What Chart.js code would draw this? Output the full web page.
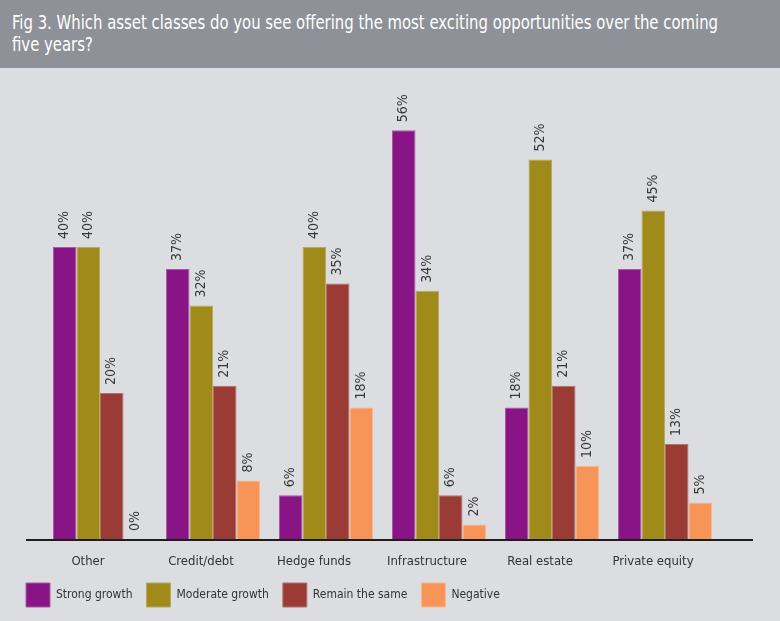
<!DOCTYPE html>
<html>
<head>
<meta charset="utf-8">
<script src="https://cdn.jsdelivr.net/npm/chart.js@4"></script>
<style>
  html, body { margin: 0; padding: 0; background: #dcdde1; }
  #wrap { width: 780px; height: 621px; position: relative; overflow: hidden; }
  #header {
    height: 68px; box-sizing: border-box; background: #8e9198; color: #ffffff;
    font-family: "DejaVu Sans Condensed", sans-serif;
    font-size: 19px; line-height: 22px; padding: 11px 0 0 12px; white-space: nowrap;
  }
  #header span { display: inline-block; transform: scaleX(0.87); transform-origin: left top; }
  #chartBox { width: 780px; height: 553px; position: relative; }
</style>
</head>
<body>
<div id="wrap">
  <div id="header"><span>Fig 3. Which asset classes do you see offering the most exciting opportunities over the coming<br>five years?</span></div>
  <div id="chartBox"><canvas id="chart"></canvas></div>
</div>
<script>
const categories = ["Other", "Credit/debt", "Hedge funds", "Infrastructure", "Real estate", "Private equity"];
const seriesNames = ["Strong growth", "Moderate growth", "Remain the same", "Negative"];
const strongGrowth = [40, 37, 6, 56, 18, 37];
const moderateGrowth = [40, 32, 40, 34, 52, 45];
const remainSame = [20, 21, 35, 6, 21, 13];
const negative = [0, 8, 18, 2, 10, 5];

const seriesColors = ["#881485", "#a08a1a", "#9b3b36", "#f69557"];
const edgeColors = ["#a55ba3", "#b8a860", "#b5706c", "#f9b88e"];

const fontFamily = '"DejaVu Sans Condensed", sans-serif';

// rotated % labels above each bar
const valueLabels = {
  id: "valueLabels",
  afterDatasetsDraw(chart) {
    const ctx = chart.ctx;
    ctx.save();
    ctx.font = "14px " + fontFamily;
    ctx.fillStyle = "#383838";
    ctx.textAlign = "left";
    ctx.textBaseline = "middle";
    chart.data.datasets.forEach((ds, i) => {
      chart.getDatasetMeta(i).data.forEach((bar, j) => {
        ctx.save();
        ctx.translate(bar.x, bar.y - 8);
        ctx.rotate(-Math.PI / 2);
        ctx.fillText(ds.data[j] + "%", 0, 0);
        ctx.restore();
      });
    });
    ctx.restore();
  }
};

// baseline runs wider than the category area
const baseLine = {
  id: "baseLine",
  afterDatasetsDraw(chart) {
    const ctx = chart.ctx;
    const y = chart.scales.y.getPixelForValue(0);
    ctx.save();
    ctx.strokeStyle = "#1e1e1e";
    ctx.lineWidth = 2;
    ctx.beginPath();
    ctx.moveTo(26, y + 1);
    ctx.lineTo(753, y + 1);
    ctx.stroke();
    ctx.restore();
  }
};

const allSeries = [strongGrowth, moderateGrowth, remainSame, negative];

new Chart(document.getElementById("chart"), {
  type: "bar",
  data: {
    labels: categories,
    datasets: allSeries.map((values, i) => ({
      label: seriesNames[i],
      data: values,
      backgroundColor: seriesColors[i],
      borderColor: edgeColors[i],
      borderWidth: 1,
      categoryPercentage: 0.832,
      barPercentage: 1
    }))
  },
  options: {
    responsive: true,
    maintainAspectRatio: false,
    animation: false,
    layout: { padding: { top: 33, left: 12, right: 58.5, bottom: 4 } },
    plugins: {
      title: { display: false },
      tooltip: { enabled: false },
      legend: {
        position: "bottom",
        align: "start",
        labels: {
          boxWidth: 24,
          boxHeight: 24,
          padding: 14,
          color: "#333333",
          font: { family: fontFamily, size: 12 }
        }
      }
    },
    scales: {
      x: {
        grid: { display: false, drawTicks: true, tickLength: 16 },
        border: { display: false },
        ticks: {
          color: "#333333",
          padding: 0,
          labelOffset: -12,
          maxRotation: 0,
          font: { family: fontFamily, size: 13, lineHeight: 14 / 13 }
        }
      },
      y: {
        min: 0,
        max: 60,
        grid: { display: false },
        border: { display: false },
        ticks: { display: false },
        afterFit(scale) { scale.width = 31.5; }
      }
    }
  },
  plugins: [valueLabels, baseLine]
});
</script>
</body>
</html>
